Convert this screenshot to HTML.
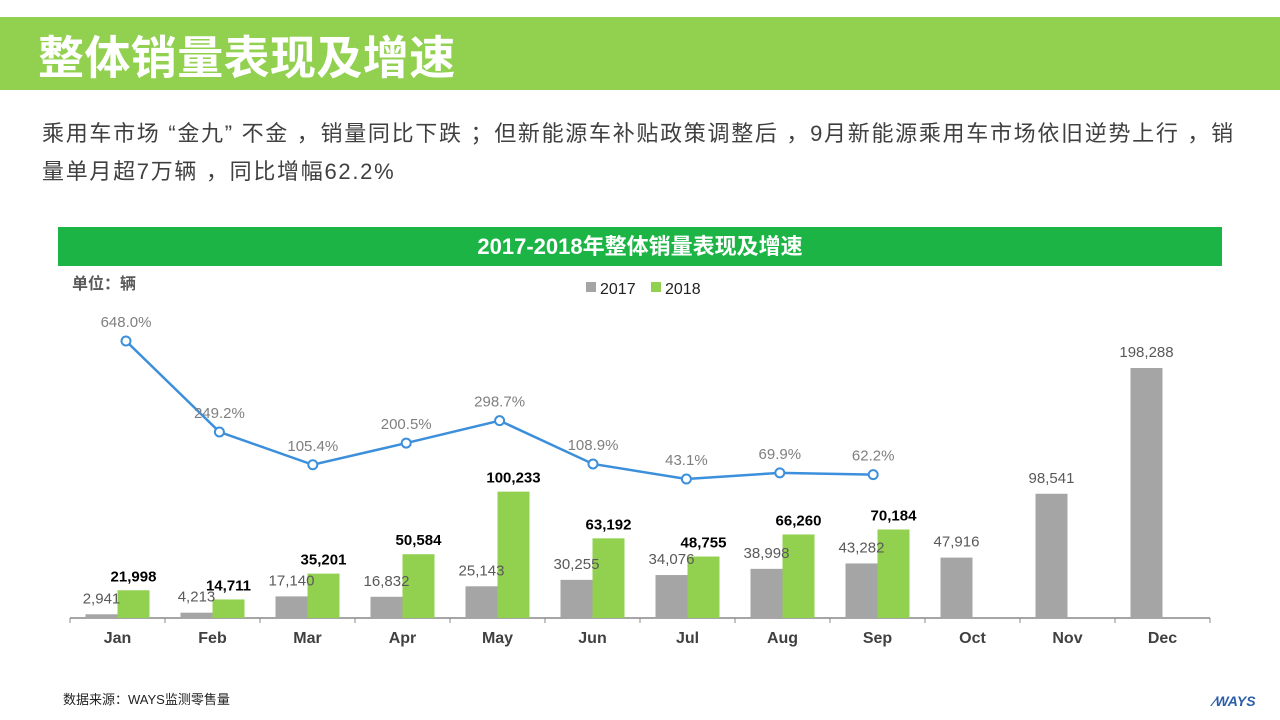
<!DOCTYPE html>
<html><head><meta charset="utf-8"><style>
body{margin:0;width:1280px;height:720px;background:#fff;position:relative;overflow:hidden;font-family:"Liberation Sans","Noto Sans CJK SC",sans-serif}
.hdr{position:absolute;left:0;top:17px;width:1280px;height:73px;background:#92D050}
.hdr span{position:absolute;left:38px;top:5px;font-size:46px;font-weight:bold;color:#fff;letter-spacing:0.4px}
.sub{position:absolute;left:42px;top:115px;width:1230px;font-size:22px;line-height:38px;color:#404040;white-space:nowrap;letter-spacing:1.7px}
.ct{position:absolute;left:58px;top:227px;width:1164px;height:39px;background:#1DB446;color:#fff;font-weight:bold;font-size:22px;text-align:center;line-height:39px}
.src{position:absolute;left:63px;top:689px;font-size:13px;color:#222}
.logo{position:absolute;left:1213px;top:693px;font-size:14px;font-weight:bold;font-style:italic;color:#2a5ea8}
</style></head><body>
<div class="hdr"><span>整体销量表现及增速</span></div>
<div class="sub">乘用车市场 “金九” 不金 ，销量同比下跌 ；但新能源车补贴政策调整后 ，9月新能源乘用车市场依旧逆势上行 ，销<br>量单月超7万辆 ，同比增幅62.2%</div>
<div class="ct">2017-2018年整体销量表现及增速</div>
<svg id="chart" width="1280" height="720" style="position:absolute;left:0;top:0"></svg>
<div class="src">数据来源：WAYS监测零售量</div>
<div class="logo">⁄WAYS</div>
<script>
const months=["Jan","Feb","Mar","Apr","May","Jun","Jul","Aug","Sep","Oct","Nov","Dec"];
const v2017=[2941,4213,17140,16832,25143,30255,34076,38998,43282,47916,98541,198288];
const v2018=[21998,14711,35201,50584,100233,63192,48755,66260,70184];
const growth=[648.0,249.2,105.4,200.5,298.7,108.9,43.1,69.9,62.2];
const NS="http://www.w3.org/2000/svg";
const svg=document.getElementById('chart');
function mk(t,a,p){const e=document.createElementNS(NS,t);for(const k in a)e.setAttribute(k,a[k]);(p||svg).appendChild(e);return e;}
const base=618,x0=70,gw=95;
const yV=v=>base-v*250/198288;
const yP=p=>488.8-0.2281*p;
const xP=i=>126+93.4*i;
const fmt=n=>n.toLocaleString('en-US');
let t=mk('text',{x:72,y:289,'font-size':16,'font-weight':'bold',fill:'#595959'});t.textContent='单位：辆';

let r=mk('rect',{x:586,y:282,width:10,height:10,fill:'#A5A5A5'});
t=mk('text',{x:600,y:294,'font-size':16,fill:'#222'});t.textContent='2017';
r=mk('rect',{x:651,y:282,width:10,height:10,fill:'#92D050'});
t=mk('text',{x:665,y:294,'font-size':16,fill:'#222'});t.textContent='2018';
let ax=mk('line',{x1:x0,y1:base,x2:x0+gw*12,y2:base,stroke:'#888','stroke-width':1.5});

months.forEach((m,i)=>{
  const gx=x0+gw*i,cx=gx+gw/2;
  mk('line',{x1:gx,y1:base,x2:gx,y2:base+5,stroke:'#888'});
  if(i==11)mk('line',{x1:gx+gw,y1:base,x2:gx+gw,y2:base+5,stroke:'#888'});
  let lb=mk('text',{x:cx,y:643,'text-anchor':'middle','font-size':16,'font-weight':'bold',fill:'#404040'});lb.textContent=m;
  
  let b=mk('rect',{x:cx-32,y:yV(v2017[i]),width:32,height:base-yV(v2017[i]),fill:'#A5A5A5'});
  
  if(i<v2018.length){
    b=mk('rect',{x:cx,y:yV(v2018[i]),width:32,height:base-yV(v2018[i]),fill:'#92D050'});
    
  }
});
months.forEach((m,i)=>{
  const cx=x0+gw*i+gw/2;
  let l=mk('text',{x:cx-16,y:yV(v2017[i])-11,'text-anchor':'middle','font-size':15,fill:'#595959'});l.textContent=fmt(v2017[i]);
  if(i<v2018.length){
    l=mk('text',{x:cx+16,y:yV(v2018[i])-9,'text-anchor':'middle','font-size':15,'font-weight':'bold',fill:'#000'});l.textContent=fmt(v2018[i]);
  }
});
let pts=growth.map((g,i)=>xP(i)+','+yP(g)).join(' ');
let pl=mk('polyline',{points:pts,fill:'none',stroke:'#3C8FDB','stroke-width':2.5});

growth.forEach((g,i)=>{
  let c=mk('circle',{cx:xP(i),cy:yP(g),r:4.5,fill:'#fff',stroke:'#3C8FDB','stroke-width':2});
  
  let l=mk('text',{x:xP(i),y:yP(g)-14,'text-anchor':'middle','font-size':15,fill:'#7F7F7F'});l.textContent=g.toFixed(1)+'%';
});
</script>
</body></html>
